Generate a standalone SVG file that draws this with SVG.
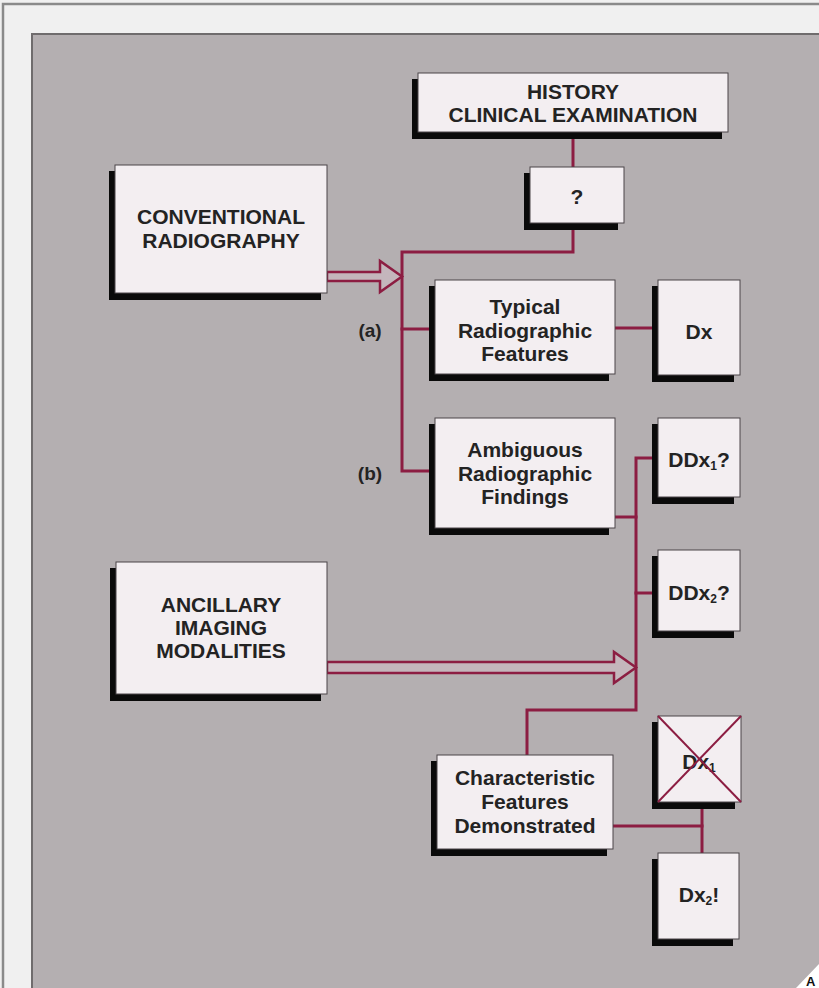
<svg xmlns="http://www.w3.org/2000/svg" width="819" height="988" viewBox="0 0 819 988">
  <style>
    .shadow { fill: #0a0a0a; }
    .box { fill: #f3eef1; stroke: #4a4548; stroke-width: 1; }
    .lbl { font-family: "Liberation Sans", Arial, sans-serif; font-weight: bold; font-size: 21px; fill: #232323; text-anchor: middle; }
    .side { font-family: "Liberation Sans", Arial, sans-serif; font-weight: bold; font-size: 19px; fill: #232323; text-anchor: middle; }
    .sub { font-size: 12px; }
    .wire { fill: none; stroke: #8c1d42; stroke-width: 3; stroke-linecap: square; }
    .hollow { fill: #c4b6bc; stroke: #8c1d42; stroke-width: 2.5; stroke-linejoin: miter; }
    .cross { stroke: #8c1d42; stroke-width: 2; }
  </style>

  <!-- window frame -->
  <rect x="0" y="0" width="819" height="988" fill="#f0f0f0"/>
  <rect x="3" y="4" width="830" height="1000" fill="none" stroke="#8a8a8a" stroke-width="2.5"/>
  <rect x="32" y="34" width="800" height="970" fill="#b4afb1" stroke="#6f6c6d" stroke-width="2"/>
  <polygon points="796,988 819,964 819,988" fill="#ffffff"/>
  <text x="806" y="986" font-family="Liberation Sans, Arial, sans-serif" font-weight="bold" font-size="13" fill="#111">A</text>

  <!-- connectors -->
  <g id="connectors">
    <path class="wire" d="M573,138 V167"/>
    <path class="wire" d="M573,228 V252 H402 V471 H430"/>
    <path class="wire" d="M402,329 H430"/>
    <path class="wire" d="M615,328 H652"/>
    <path class="wire" d="M615,517 H636"/>
    <path class="wire" d="M652,458 H636 V710 H527 V755"/>
    <path class="wire" d="M636,593 H652"/>
    <path class="wire" d="M613,826 H702"/>
    <path class="wire" d="M702,808 V853"/>
    <path class="hollow" d="M327,272 H380 V261 L402,276.5 L380,292 V281 H327 Z"/>
    <path class="hollow" d="M327,662 H614 V652 L636,667.5 L614,683 V673 H327 Z"/>
  </g>

  <g id="history">
    <rect class="shadow" x="412" y="79" width="310" height="60"/>
    <rect class="box" x="418" y="73" width="310" height="59"/>
    <text class="lbl" x="573" y="99">HISTORY</text>
    <text class="lbl" x="573" y="122">CLINICAL EXAMINATION</text>
  </g>

  <g id="unknown">
    <rect class="shadow" x="524" y="173" width="94" height="57"/>
    <rect class="box" x="530" y="167" width="94" height="56"/>
    <text class="lbl" x="577" y="204">?</text>
  </g>

  <g id="conventional">
    <rect class="shadow" x="109" y="171" width="212" height="129"/>
    <rect class="box" x="115" y="165" width="212" height="128"/>
    <text class="lbl" x="221" y="224">CONVENTIONAL</text>
    <text class="lbl" x="221" y="248">RADIOGRAPHY</text>
  </g>

  <g id="label-a">
    <text class="side" x="370" y="337">(a)</text>
  </g>
  <g id="label-b">
    <text class="side" x="370" y="480">(b)</text>
  </g>

  <g id="typical">
    <rect class="shadow" x="429" y="286" width="180" height="95"/>
    <rect class="box" x="435" y="280" width="180" height="94"/>
    <text class="lbl" x="525" y="314">Typical</text>
    <text class="lbl" x="525" y="338">Radiographic</text>
    <text class="lbl" x="525" y="361">Features</text>
  </g>

  <g id="dx">
    <rect class="shadow" x="652" y="286" width="82" height="96"/>
    <rect class="box" x="658" y="280" width="82" height="95"/>
    <text class="lbl" x="699" y="339">Dx</text>
  </g>

  <g id="ambiguous">
    <rect class="shadow" x="429" y="424" width="180" height="111"/>
    <rect class="box" x="435" y="418" width="180" height="110"/>
    <text class="lbl" x="525" y="457">Ambiguous</text>
    <text class="lbl" x="525" y="481">Radiographic</text>
    <text class="lbl" x="525" y="504">Findings</text>
  </g>

  <g id="ddx1">
    <rect class="shadow" x="652" y="424" width="82" height="80"/>
    <rect class="box" x="658" y="418" width="82" height="79"/>
    <text class="lbl" x="699" y="467">DDx<tspan class="sub" dy="3">1</tspan><tspan dy="-3">?</tspan></text>
  </g>

  <g id="ddx2">
    <rect class="shadow" x="652" y="556" width="82" height="82"/>
    <rect class="box" x="658" y="550" width="82" height="81"/>
    <text class="lbl" x="699" y="600">DDx<tspan class="sub" dy="3">2</tspan><tspan dy="-3">?</tspan></text>
  </g>

  <g id="ancillary">
    <rect class="shadow" x="110" y="568" width="211" height="133"/>
    <rect class="box" x="116" y="562" width="211" height="132"/>
    <text class="lbl" x="221" y="612">ANCILLARY</text>
    <text class="lbl" x="221" y="635">IMAGING</text>
    <text class="lbl" x="221" y="658">MODALITIES</text>
  </g>

  <g id="characteristic">
    <rect class="shadow" x="431" y="761" width="176" height="95"/>
    <rect class="box" x="437" y="755" width="176" height="94"/>
    <text class="lbl" x="525" y="785">Characteristic</text>
    <text class="lbl" x="525" y="809">Features</text>
    <text class="lbl" x="525" y="833">Demonstrated</text>
  </g>

  <g id="dx1">
    <rect class="shadow" x="652" y="722" width="83" height="87"/>
    <rect class="box" x="658" y="716" width="83" height="86"/>
    <text class="lbl" x="699" y="769">Dx<tspan class="sub" dy="3">1</tspan></text>
    <line class="cross" x1="658" y1="716" x2="741" y2="802"/>
    <line class="cross" x1="741" y1="716" x2="658" y2="802"/>
  </g>

  <g id="dx2">
    <rect class="shadow" x="652" y="859" width="81" height="87"/>
    <rect class="box" x="658" y="853" width="81" height="86"/>
    <text class="lbl" x="699" y="902">Dx<tspan class="sub" dy="3">2</tspan><tspan dy="-3">!</tspan></text>
  </g>
</svg>
